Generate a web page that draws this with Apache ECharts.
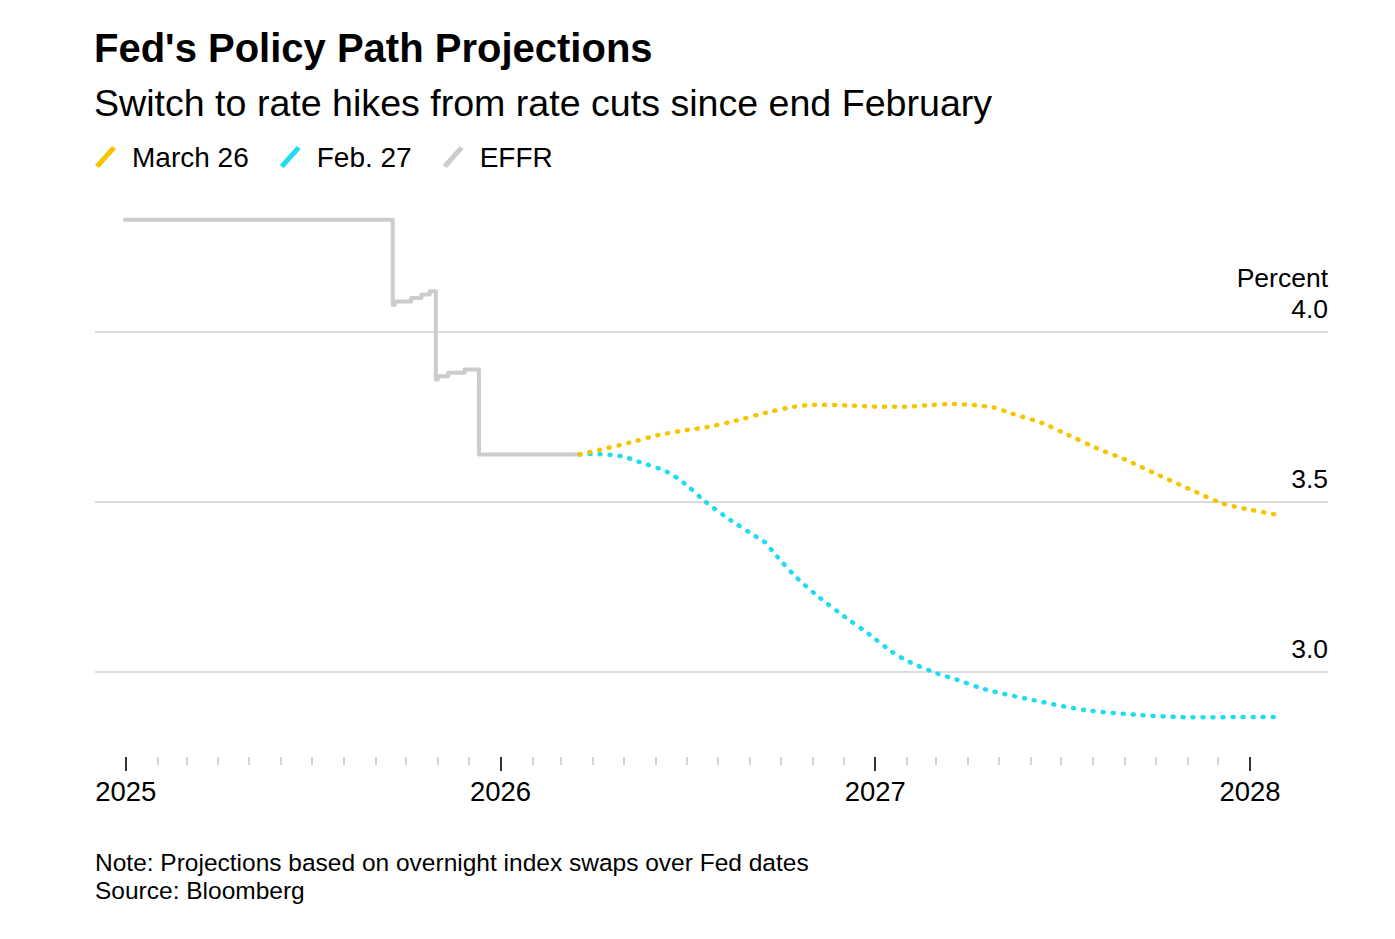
<!DOCTYPE html>
<html>
<head>
<meta charset="utf-8">
<script src="https://cdn.jsdelivr.net/npm/echarts@6/dist/echarts.min.js"></script>
<style>
  html, body { margin: 0; padding: 0; background: #ffffff; }
  #chart { width: 1395px; height: 939px; }
</style>
</head>
<body>
<div id="chart"></div>
<script>
// ---------- data ----------
const effrDates  = ['2024-12-31','2025-09-18','2025-09-20','2025-10-06','2025-10-16','2025-10-24','2025-10-30','2025-11-01','2025-11-11','2025-11-27','2025-12-11','2026-03-19'];
const effrValues = [4.33, 4.08, 4.09, 4.10, 4.11, 4.12, 3.86, 3.87, 3.88, 3.89, 3.64, 3.64];

const mar26Dates  = ['2026-03-19','2026-04-07','2026-05-06','2026-06-04','2026-07-02','2026-07-21','2026-08-18','2026-09-17','2026-10-14','2026-11-02','2026-12-04','2027-01-09','2027-01-29','2027-02-19','2027-03-18','2027-04-26','2027-05-14','2027-06-12','2027-07-08','2027-08-04','2027-09-02','2027-10-04','2027-11-09','2027-12-05','2028-01-03','2028-01-27'];
const mar26Values = [3.64, 3.653, 3.674, 3.697, 3.712, 3.72, 3.739, 3.763, 3.78, 3.786, 3.784, 3.78, 3.78, 3.784, 3.788, 3.778, 3.76, 3.733, 3.697, 3.659, 3.624, 3.579, 3.53, 3.496, 3.476, 3.463];

const feb27Dates  = ['2026-03-19','2026-03-30','2026-04-28','2026-05-16','2026-06-12','2026-06-29','2026-07-20','2026-08-13','2026-09-07','2026-09-15','2026-09-27','2026-10-17','2026-11-09','2026-12-02','2026-12-26','2027-01-17','2027-02-03','2027-03-02','2027-03-21','2027-04-18','2027-06-03','2027-07-25','2027-09-18','2027-11-05','2028-01-27'];
const feb27Values = [3.64, 3.641, 3.635, 3.618, 3.589, 3.555, 3.50, 3.447, 3.398, 3.383, 3.341, 3.276, 3.216, 3.163, 3.111, 3.06, 3.03, 2.996, 2.978, 2.949, 2.918, 2.888, 2.873, 2.867, 2.868];

const yearTicks = ['2025-01-01','2026-01-01','2027-01-01','2028-01-01'];
const yTicks = [3.0, 3.5, 4.0];

const seriesNames = ['March 26', 'Feb. 27', 'EFFR'];
const titleText = "Fed's Policy Path Projections";
const subtitleText = 'Switch to rate hikes from rate cuts since end February';
const noteText = 'Note: Projections based on overnight index swaps over Fed dates\nSource: Bloomberg';

// ---------- helpers ----------
const tp = s => +echarts.time.parse(s);
const zip = (d, v) => d.map((x, i) => [tp(x), v[i]]);
const monthTicks = [];
for (let y = 2025; y <= 2027; y++) {
  for (let m = 2; m <= 12; m++) {
    monthTicks.push(tp(y + '-' + String(m).padStart(2, '0') + '-01'));
  }
}

const FONT = '"Liberation Sans", Arial, Helvetica, sans-serif';
const X_MIN = tp('2024-12-02');
const X_MAX = tp('2028-03-17');
const iconPath = 'path://M0,19 L17,0 L21,3 L4,22 Z';

const chart = echarts.init(document.getElementById('chart'), null, { renderer: 'svg' });

chart.setOption({
  animation: false,
  backgroundColor: '#ffffff',
  textStyle: { fontFamily: FONT },
  title: [
    { text: titleText, left: 94, top: 26, padding: 0,
      textStyle: { fontFamily: FONT, fontSize: 40, fontWeight: 'bold', color: '#000', lineHeight: 44 } },
    { text: subtitleText, left: 94, top: 82, padding: 0,
      textStyle: { fontFamily: FONT, fontSize: 37.6, fontWeight: 'normal', color: '#000', lineHeight: 42 } },
    { text: noteText, left: 95, top: 848, padding: 0,
      textStyle: { fontFamily: FONT, fontSize: 24.5, fontWeight: 'normal', color: '#000', lineHeight: 28 } }
  ],
  legend: {
    left: 95, top: 143, padding: 0,
    itemWidth: 21, itemHeight: 22, itemGap: 31,
    icon: iconPath,
    selectedMode: false,
    data: seriesNames,
    textStyle: { fontFamily: FONT, fontSize: 28, color: '#000', padding: [0, 0, 0, 11] }
  },
  grid: { left: 95, right: 67, top: 196, bottom: 182, outerBoundsMode: 'none', containLabel: false },
  xAxis: [
    {
      type: 'value', min: X_MIN, max: X_MAX, position: 'bottom',
      axisLine: { show: false },
      splitLine: { show: false },
      axisTick: { show: true, customValues: yearTicks.map(tp), length: 14, lineStyle: { color: '#000', width: 1.6 } },
      axisLabel: { show: true, customValues: yearTicks.map(tp), margin: 20,
        formatter: v => String(new Date(v).getFullYear()),
        fontFamily: FONT, fontSize: 27.5, color: '#000' }
    },
    {
      type: 'value', min: X_MIN, max: X_MAX, position: 'bottom',
      axisLine: { show: false },
      splitLine: { show: false },
      axisTick: { show: true, customValues: monthTicks, length: 8, lineStyle: { color: '#c4c4c4', width: 1.5 } },
      axisLabel: { show: false }
    }
  ],
  yAxis: {
    type: 'value', position: 'right', min: 2.75, max: 4.4,
    axisLine: { show: false },
    axisTick: { show: false, customValues: yTicks },
    splitLine: { show: true, lineStyle: { color: '#cfcfcf', width: 1.6 } },
    axisLabel: {
      show: true, inside: true, margin: 0, customValues: yTicks,
      verticalAlign: 'bottom', align: 'right', padding: [0, 0, 8, 0],
      lineHeight: 31, fontFamily: FONT, fontSize: 26.5, color: '#000',
      formatter: v => (Math.abs(v - 4) < 1e-9 ? 'Percent\n' : '') + v.toFixed(1)
    }
  },
  series: [
    {
      name: seriesNames[1], type: 'line', data: zip(feb27Dates, feb27Values),
      showSymbol: false, symbol: 'none', smooth: 0.3, z: 3,
      color: '#1fdcef', itemStyle: { color: '#1fdcef' },
      lineStyle: { color: '#1fdcef', width: 4.5, type: [1, 9], cap: 'round' }
    },
    {
      name: seriesNames[0], type: 'line', data: zip(mar26Dates, mar26Values),
      showSymbol: false, symbol: 'none', smooth: 0.3, z: 4,
      color: '#f6c500', itemStyle: { color: '#f6c500' },
      lineStyle: { color: '#f6c500', width: 4.5, type: [1, 9], cap: 'round' }
    },
    {
      name: seriesNames[2], type: 'line', data: zip(effrDates, effrValues),
      showSymbol: false, symbol: 'none', step: 'end', z: 2,
      color: '#cccccc', itemStyle: { color: '#cccccc' },
      lineStyle: { color: '#cccccc', width: 4, cap: 'round', join: 'round' }
    }
  ]
});
</script>
</body>
</html>
